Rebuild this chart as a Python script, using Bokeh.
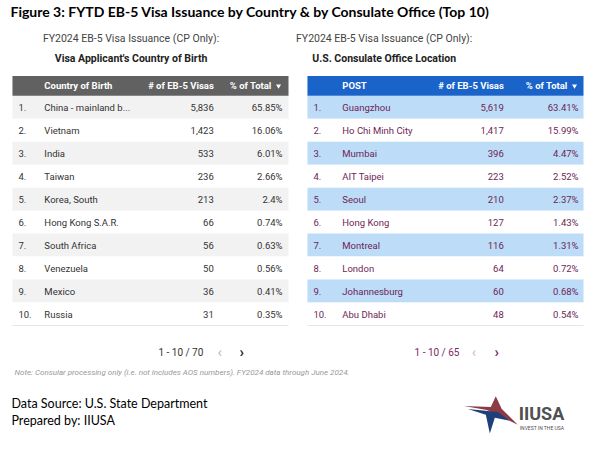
from bokeh.plotting import figure
from bokeh.models import Range1d, ColumnDataSource
from bokeh.core.properties import value
from bokeh.embed import file_html
from bokeh.resources import INLINE

# ---------------- data ----------------
title = "Figure 3: FYTD EB-5 Visa Issuance by Country & by Consulate Office (Top 10)"
subtitle = "FY2024 EB-5 Visa Issuance (CP Only):"
left_subtitle = "Visa Applicant's Country of Birth"
right_subtitle = "U.S. Consulate Office Location"

countries = ["China - mainland b...", "Vietnam", "India", "Taiwan", "Korea, South",
             "Hong Kong S.A.R.", "South Africa", "Venezuela", "Mexico", "Russia"]
country_visas = [5836, 1423, 533, 236, 213, 66, 56, 50, 36, 31]
country_pct = [65.85, 16.06, 6.01, 2.66, 2.4, 0.74, 0.63, 0.56, 0.41, 0.35]

posts = ["Guangzhou", "Ho Chi Minh City", "Mumbai", "AIT Taipei", "Seoul",
         "Hong Kong", "Montreal", "London", "Johannesburg", "Abu Dhabi"]
post_visas = [5619, 1417, 396, 223, 210, 127, 116, 64, 60, 48]
post_pct = [63.41, 15.99, 4.47, 2.52, 2.37, 1.43, 1.31, 0.72, 0.68, 0.54]

left_headers = ["Country of Birth", "# of EB-5 Visas", "% of Total"]
right_headers = ["POST", "# of EB-5 Visas", "% of Total"]
left_pager = "1 - 10 / 70"
right_pager = "1 - 10 / 65"
note = "Note: Consular processing only (i.e. not includes AOS numbers). FY2024 data through June 2024."
source_lines = ["Data Source: U.S. State Department", "Prepared by: IIUSA"]

# ---------------- figure ----------------
W, H = 584, 434
p = figure(width=W, height=H, output_backend="svg", toolbar_location=None,
           x_range=Range1d(2, 588), y_range=Range1d(446, 4),
           min_border=0, outline_line_color=None, background_fill_color="white")
p.axis.visible = False
p.grid.visible = False

FONT = value("Roboto")


def txt(x, y, s, size, color="#333333", style="normal", align="left", font=FONT):
    p.text(x=[x], y=[y], text=[s], text_font=font, text_font_size=size,
           text_font_style=style, text_color=color, text_align=align,
           text_baseline="middle")


# title / subtitles
txt(12, 15, title, "14px", "#000000", "bold", font=value("Lato"))
txt(133, 43, subtitle, "10.5px", "#444444", align="center")
txt(133, 63, left_subtitle, "10.5px", "#222222", "bold", align="center")
txt(387, 43, subtitle, "10.5px", "#444444", align="center")
txt(387, 63, right_subtitle, "10.5px", "#222222", "bold", align="center")

HEAD_TOP, HEAD_BOT = 81, 101
ROW_H = 23.4


def table(x0, x1, names, visas, pcts, headers, head_col, shade_col, body_col,
          num_x, name_x, cnt_r, pct_r):
    n = len(names)
    ys = [HEAD_BOT + (i + 0.5) * ROW_H for i in range(n)]
    src = ColumnDataSource(dict(
        y=ys,
        num=[f"{i + 1}." for i in range(n)],
        name=names,
        cnt=[f"{v:,}" for v in visas],
        pct=[f"{v:g}%" for v in pcts],
        fill=[shade_col if i % 2 == 0 else "white" for i in range(n)],
    ))
    # row backgrounds
    p.rect(x=(x0 + x1) / 2, y="y", width=x1 - x0, height=ROW_H, source=src,
           fill_color="fill", line_color=None)
    # header bar
    p.rect(x=[(x0 + x1) / 2], y=[(HEAD_TOP + HEAD_BOT) / 2], width=x1 - x0,
           height=HEAD_BOT - HEAD_TOP, fill_color=head_col, line_color=None)
    hy = (HEAD_TOP + HEAD_BOT) / 2
    txt(name_x, hy, headers[0], "9.5px", "white", "bold")
    txt(cnt_r, hy, headers[1], "9.5px", "white", "bold", align="right")
    txt(pct_r - 11, hy, headers[2], "9.5px", "white", "bold", align="right")
    p.scatter(x=[pct_r - 4], y=[hy], marker="inverted_triangle", size=5,
              fill_color="white", line_color=None)
    # bottom line
    bottom = HEAD_BOT + n * ROW_H
    p.segment(x0=[x0], y0=[bottom], x1=[x1], y1=[bottom], line_color="#e6e6e6",
              line_width=1)
    kw = dict(source=src, text_font=FONT, text_font_size="9.5px",
              text_color=body_col, text_baseline="middle")
    p.text(x=num_x, y="y", text="num", text_align="left", **kw)
    p.text(x=name_x, y="y", text="name", text_align="left", **kw)
    p.text(x=cnt_r, y="y", text="cnt", text_align="right", **kw)
    p.text(x=pct_r, y="y", text="pct", text_align="right", **kw)


table(14, 291, countries, country_visas, country_pct, left_headers,
      "#616161", "#f2f2f2", "#333333", 20, 46, 216, 285)
table(310, 587, posts, post_visas, post_pct, right_headers,
      "#1a63c9", "#bcdcf8", "#6e1f55", 316, 345, 507, 582)

# pagination
txt(183, 362, left_pager, "10px", "#333333", align="center")
txt(222, 362, "\u2039", "15px", "#bbbbbb", align="center")
txt(244, 362, "\u203a", "15px", "#222222", "bold", align="center")
txt(440, 362, right_pager, "10px", "#7b2a5e", align="center")
txt(477, 362, "\u2039", "15px", "#e2b6cc", align="center")
txt(500, 362, "\u203a", "15px", "#7b2a5e", "bold", align="center")

# note
txt(16, 383, note, "8px", "#999999", "italic")

# source
txt(13, 414, source_lines[0], "12.5px", "#000000", font=value("Lato"))
txt(13, 432, source_lines[1], "12.5px", "#000000", font=value("Lato"))

# logo
p.patch(x=[467, 494, 499, 505, 521, 501, 490], y=[417, 418, 407, 420, 436, 426, 421],
        fill_color="#8c3a44", line_color=None)
p.patch(x=[471, 501, 513, 498, 493, 489], y=[420, 423, 432, 429, 445, 426],
        fill_color="#1f3f7a", line_color=None)
txt(522, 425, "IIUSA", "18px", "#505050", "bold", font=value("Roboto"))
txt(523, 439, "INVEST IN THE USA", "5px", "#505050", font=value("Roboto"))

open("out.html", "w").write(file_html(p, INLINE))
